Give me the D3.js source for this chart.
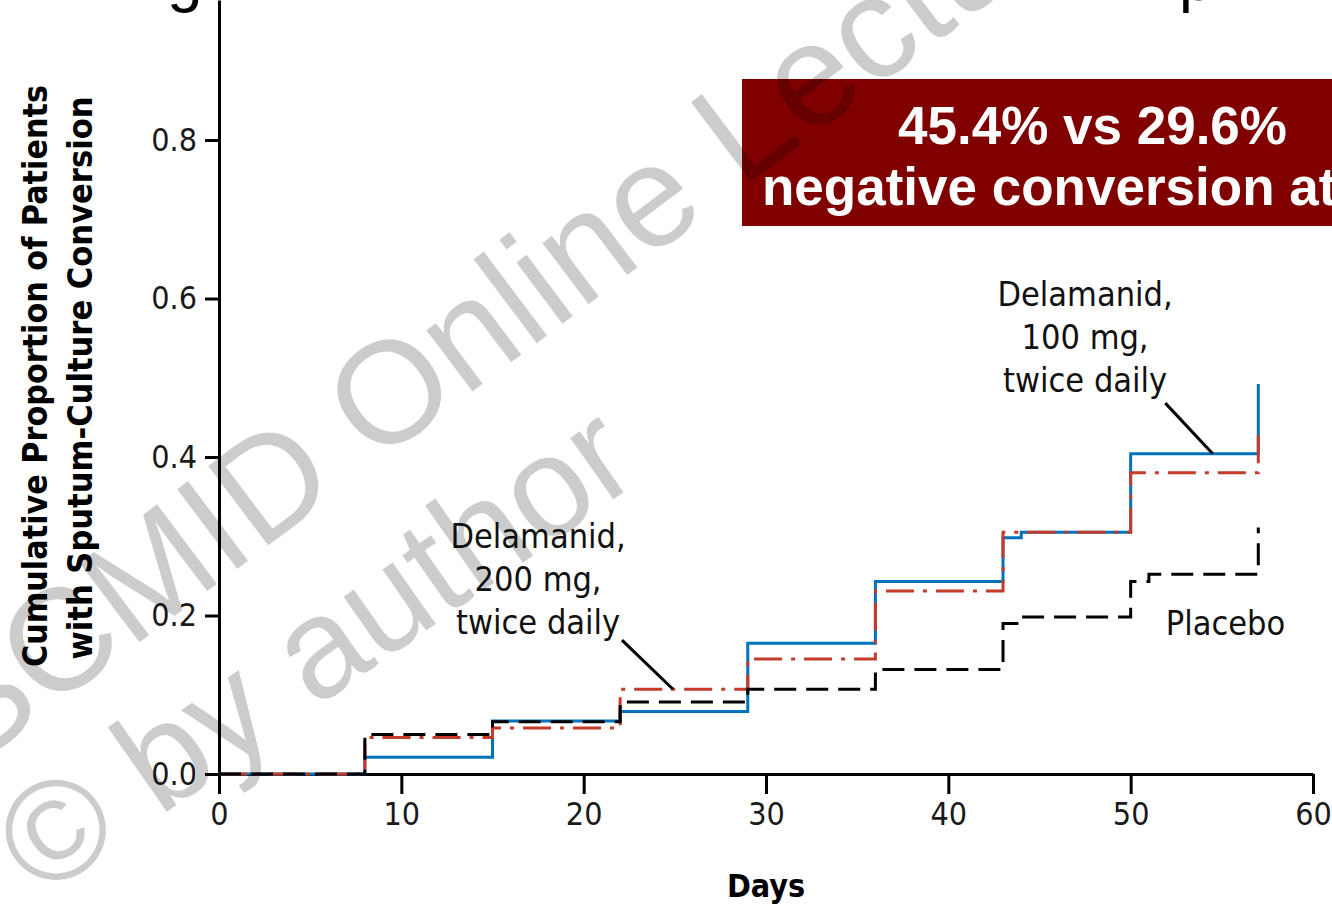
<!DOCTYPE html>
<html>
<head>
<meta charset="utf-8">
<script src="https://cdn.jsdelivr.net/npm/d3@7"></script>
<style>
  html, body { margin: 0; padding: 0; background: #fff; }
  svg { display: block; }
</style>
</head>
<body>
<svg id="chart" width="1332" height="905"></svg>
<script>
// Cumulative culture conversion by study day (step curves)
const dose100Days = [0, 8, 15, 22, 29, 36, 43, 44, 50, 57];
const dose100Vals = [0, 0.021, 0.067, 0.079, 0.165, 0.243, 0.298, 0.305, 0.404, 0.492];
const dose200Days = [0, 8, 15, 22, 29, 36, 43, 50, 57];
const dose200Vals = [0, 0.046, 0.058, 0.107, 0.145, 0.231, 0.305, 0.380, 0.434];
const placeboDays = [0, 8, 15, 22, 29, 36, 43, 44, 50, 51, 57];
const placeboVals = [0, 0.050, 0.066, 0.091, 0.107, 0.132, 0.190, 0.198, 0.243, 0.252, 0.311];

const xTicks = [0, 10, 20, 30, 40, 50, 60];
const yTicks = [0.0, 0.2, 0.4, 0.6, 0.8];
const yTickLabels = ["0.0", "0.2", "0.4", "0.6", "0.8"];

const calloutLines = ["45.4% vs 29.6%", "negative conversion at"];
const label200 = ["Delamanid,", "200 mg,", "twice daily"];
const label100 = ["Delamanid,", "100 mg,", "twice daily"];
const watermarkLines = ["ESCMID Online Lecture Library", "\u00A9 by author"];

const W = 1332, H = 905;
const FONT = '"Liberation Sans Narrow", "DejaVu Sans Condensed", "DejaVu Sans", sans-serif';
const ARIAL = '"Liberation Sans", Arial, sans-serif';
const BLUE = "#0072bc", RED = "#c43b2a", BLACK = "#000";

const svg = d3.select("#chart");
svg.append("rect").attr("width", W).attr("height", H).attr("fill", "#fff");

const x = d3.scaleLinear().domain([0, 60]).range([219, 1313]);
const y = d3.scaleLinear().domain([0, 0.9767]).range([774, 0]);

// Cut-off slide title glyphs along the top edge
svg.append("text").attr("x", 167).attr("y", 0).attr("font-family", ARIAL)
  .attr("font-size", 64).attr("fill", "#000").text("g");
svg.append("text").attr("x", 1179).attr("y", 0).attr("font-family", ARIAL)
  .attr("font-size", 62).attr("fill", "#000").text("p");

// Axes
const xAxis = d3.axisBottom(x).tickValues(xTicks).tickSize(20).tickSizeOuter(0).tickPadding(8)
  .tickFormat(d3.format("d"));
const gx = svg.append("g").attr("transform", `translate(0,${y(0)})`).call(xAxis);
const yAxis = d3.axisLeft(y).tickValues(yTicks).tickSize(14).tickSizeOuter(0).tickPadding(8)
  .tickFormat((d, i) => yTickLabels[i]);
const gy = svg.append("g").attr("transform", `translate(${x(0)},0)`).call(yAxis);

[gx, gy].forEach(g => {
  g.selectAll("path.domain").attr("stroke", BLACK).attr("stroke-width", 3);
  g.selectAll(".tick line").attr("stroke", BLACK).attr("stroke-width", 3);
  g.selectAll(".tick text").attr("font-family", FONT).attr("font-size", 32).attr("fill", "#1a1a1a");
});

// Axis titles
svg.append("text").attr("x", x(30)).attr("y", 897).attr("text-anchor", "middle")
  .attr("font-family", FONT).attr("font-weight", "bold").attr("font-size", 32).text("Days");

const yTitle = svg.append("g").attr("transform", "translate(0,376) rotate(-90)");
yTitle.append("text").attr("x", 0).attr("y", 47).attr("text-anchor", "middle")
  .attr("font-family", FONT).attr("font-weight", "bold").attr("font-size", 33)
  .attr("textLength", 582).attr("lengthAdjust", "spacingAndGlyphs")
  .text("Cumulative  Proportion of Patients");
yTitle.append("text").attr("x", -2).attr("y", 92).attr("text-anchor", "middle")
  .attr("font-family", FONT).attr("font-weight", "bold").attr("font-size", 33)
  .attr("textLength", 563).attr("lengthAdjust", "spacingAndGlyphs")
  .text("with Sputum-Culture Conversion");

// Step curves
const step = d3.line().x(d => x(d[0])).y(d => y(d[1])).curve(d3.curveStepAfter);
const series = [
  { days: dose100Days, vals: dose100Vals, color: BLUE, dash: null },
  { days: dose200Days, vals: dose200Vals, color: RED, dash: "28,9,4,9" },
  { days: placeboDays, vals: placeboVals, color: BLACK, dash: "22,10" }
];
series.forEach(s => {
  svg.append("path")
    .datum(d3.zip(s.days, s.vals))
    .attr("d", step)
    .attr("fill", "none")
    .attr("stroke", s.color)
    .attr("stroke-width", 3)
    .attr("stroke-dasharray", s.dash);
});

// Curve labels with leader lines
function multiline(lines, cx, baseline, gap) {
  const t = svg.append("text").attr("text-anchor", "middle").attr("font-family", FONT)
    .attr("font-size", 34).attr("fill", "#111");
  lines.forEach((l, i) => t.append("tspan").attr("x", cx).attr("y", baseline + i * gap).text(l));
}
multiline(label200, x(17.5), 548, 43);
multiline(label100, x(47.5), 306, 43);
svg.append("text").attr("x", x(55.2)).attr("y", 635).attr("text-anchor", "middle")
  .attr("font-family", FONT).attr("font-size", 34).attr("fill", "#111").text("Placebo");

svg.append("line").attr("x1", x(22.1)).attr("y1", y(0.169)).attr("x2", x(24.9)).attr("y2", y(0.107))
  .attr("stroke", BLACK).attr("stroke-width", 3);
svg.append("line").attr("x1", x(51.9)).attr("y1", y(0.468)).attr("x2", x(54.5)).attr("y2", y(0.404))
  .attr("stroke", BLACK).attr("stroke-width", 3);

// Highlight callout box
svg.append("rect").attr("x", 742).attr("y", 79).attr("width", 700).attr("height", 147).attr("fill", "#800000");
svg.append("text").attr("x", 898).attr("y", 144).attr("font-family", ARIAL)
  .attr("font-weight", "bold").attr("font-size", 53).attr("fill", "#fff").text(calloutLines[0]);
svg.append("text").attr("x", 762).attr("y", 205).attr("font-family", ARIAL)
  .attr("font-weight", "bold").attr("font-size", 53).attr("fill", "#fff").text(calloutLines[1]);

// Watermark overlay
const wm = svg.append("g").attr("fill", "#000").attr("fill-opacity", 0.2)
  .attr("font-family", ARIAL);
wm.append("text").attr("font-size", 145).attr("transform", "translate(-108,829) rotate(-37)").text(watermarkLines[0]);
wm.append("text").attr("font-size", 142).attr("transform", "translate(41,900) rotate(-35)").text(watermarkLines[1]);
</script>
</body>
</html>
